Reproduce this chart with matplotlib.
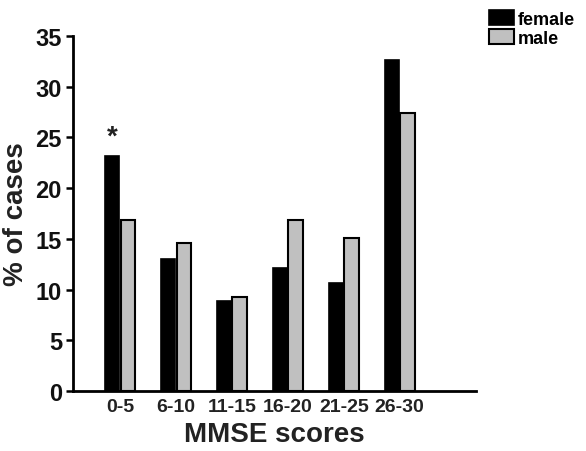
import numpy as np
import matplotlib
matplotlib.use("Agg")
import matplotlib.pyplot as plt

plt.rcParams["font.family"] = ["Liberation Sans", "DejaVu Sans"]
plt.rcParams["font.weight"] = "bold"

# ----------------------------
# Data
# ----------------------------
categories = ["0-5", "6-10", "11-15", "16-20", "21-25", "26-30"]
female = [23.2, 13.0, 8.9, 12.1, 10.6, 32.6]
male = [16.9, 14.6, 9.3, 16.9, 15.1, 27.4]
yticks = [0, 5, 10, 15, 20, 25, 30, 35]

x = np.arange(len(categories))
width = 0.26

fig = plt.figure(figsize=(5.86, 4.52), dpi=100)
ax = fig.add_axes([0.1246, 0.1327, 0.6874, 0.7855])

ax.bar(x - width / 2 - 0.01, female, width, color="black", edgecolor="black",
       linewidth=1.2, label="female")
ax.bar(x + width / 2 + 0.01, male, width, color="#c0c0c0", edgecolor="black",
       linewidth=1.5, label="male")

# significance marker
ax.text(x[0] - width / 2, female[0] + 1.9, "*", ha="center", va="center",
        fontsize=20, fontweight="bold", color="#222222")

ax.set_xlim(-0.84, 6.36)
ax.set_ylim(0, 35)
ax.set_yticks(yticks)
ax.set_xticks(x)
ax.set_xticklabels(categories, fontsize=14, fontweight="bold", color="#222222")
ax.tick_params(axis="x", length=0, pad=5)
ax.tick_params(axis="y", labelsize=17, width=1.8, length=5, pad=3,
               labelcolor="#111111")
for lbl in ax.get_yticklabels():
    lbl.set_fontweight("bold")

for s in ["top", "right"]:
    ax.spines[s].set_visible(False)
for s in ["left", "bottom"]:
    ax.spines[s].set_linewidth(2)

ax.set_xlabel("MMSE scores", fontsize=20, fontweight="bold", color="#222222",
              labelpad=4)
ax.set_ylabel("% of cases", fontsize=20, fontweight="bold", color="#222222",
              labelpad=5)

fig.legend(loc="upper right", bbox_to_anchor=(1.0, 1.0), frameon=False,
           fontsize=13, handlelength=1.4, handleheight=0.9,
           handletextpad=0.2, labelspacing=0.1, borderaxespad=0.2)

plt.savefig("out.png", dpi=100)
plt.close()
